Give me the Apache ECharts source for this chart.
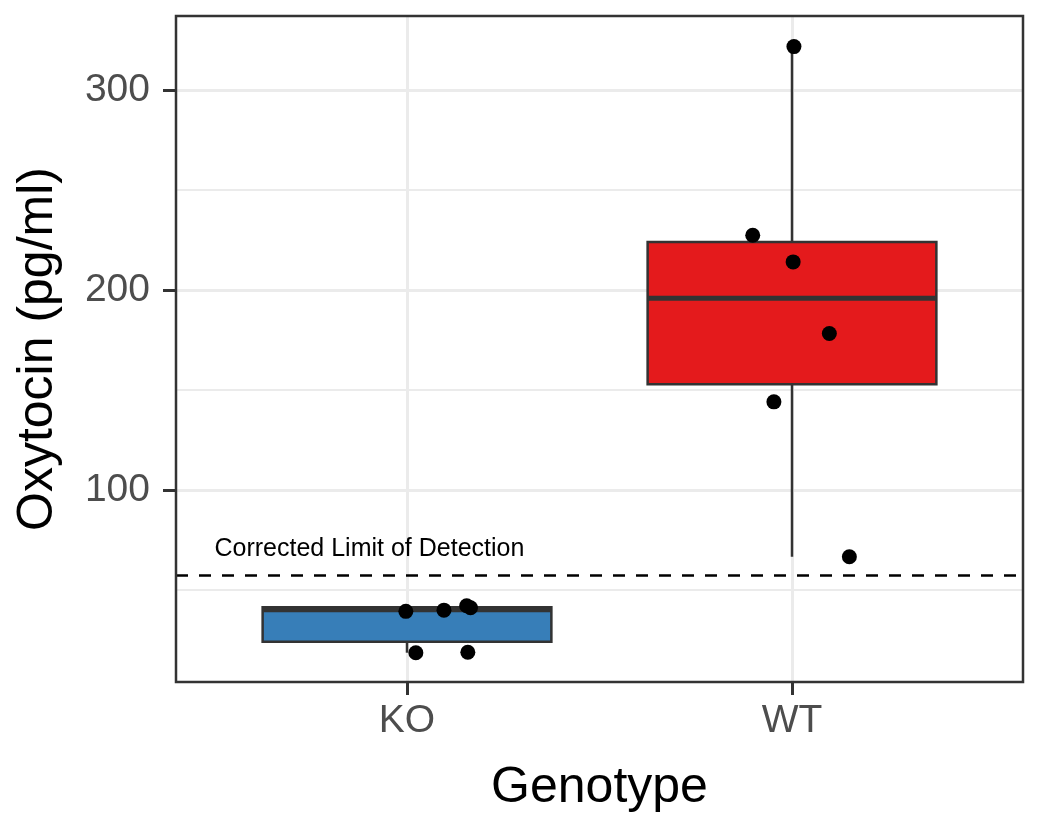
<!DOCTYPE html>
<html>
<head>
<meta charset="utf-8">
<script src="https://cdn.jsdelivr.net/npm/echarts@6/dist/echarts.min.js"></script>
<style>html,body{margin:0;padding:0;background:#fff}#c{width:1050px;height:825px}</style>
</head>
<body>
<div id="c"></div>
<script>
const categories = ['KO', 'WT'];
const categoryPos = [1, 2];
const boxMin = [18.5, 66.5];
const boxQ1 = [24, 152.8];
const boxMedian = [40, 195.8];
const boxQ3 = [41.3, 224];
const boxMax = [41.5, 321.7];
const boxColors = ['#377EB8', '#E41A1C'];
// jittered points: [x position (category units), value]
const pointsKO = [[0.997, 39.2], [1.096, 39.8], [1.155, 42], [1.165, 41], [1.023, 18.5], [1.158, 18.7]];
const pointsWT = [[2.005, 321.7], [1.898, 227.3], [2.003, 214], [2.097, 178.2], [1.953, 144], [2.149, 66.5]];
const yTicks = [100, 200, 300];
const yMinorGrid = [50, 150, 250];
const limitOfDetection = 57;
const lodLabel = 'Corrected Limit of Detection';
const lodLabelPos = [0.5, 70.5];

const FONT = 'Liberation Sans, Arial, sans-serif';
const boxData = categoryPos.map((x, i) => [x, boxMin[i], boxQ1[i], boxMedian[i], boxQ3[i], boxMax[i], i]);
const halfW = 0.375;

const chart = echarts.init(document.getElementById('c'), null, {renderer: 'canvas'});
chart.setOption({
  animation: false,
  backgroundColor: '#fff',
  grid: {left: 176, right: 27, top: 16, bottom: 143, show: true, borderColor: '#333', borderWidth: 2.5, backgroundColor: 'transparent', z: 10},
  xAxis: {
    type: 'value', min: 0.4, max: 2.6,
    name: 'Genotype', nameLocation: 'middle', nameGap: 81,
    nameTextStyle: {fontFamily: FONT, fontSize: 50, color: '#000'},
    axisLine: {show: false},
    splitLine: {show: false},
    axisTick: {show: true, length: 13, lineStyle: {color: '#333', width: 3}, customValues: categoryPos},
    axisLabel: {show: true, customValues: categoryPos, margin: 20, fontFamily: FONT, fontSize: 39, color: '#4D4D4D',
      formatter: v => categories[categoryPos.indexOf(Math.round(v))] || ''}
  },
  yAxis: {
    type: 'value', min: 3.85, max: 337,
    name: 'Oxytocin (pg/ml)', nameLocation: 'middle', nameGap: 113,
    nameTextStyle: {fontFamily: FONT, fontSize: 50, color: '#000'},
    axisLine: {show: false},
    splitLine: {show: false},
    axisTick: {show: true, length: 13, lineStyle: {color: '#333', width: 3}, customValues: yTicks},
    axisLabel: {show: true, customValues: yTicks, margin: 26, fontFamily: FONT, fontSize: 39, color: '#4D4D4D'}
  },
  series: [
    {
      type: 'line', data: [], silent: true, z: 1,
      markLine: {
        silent: true, symbol: 'none', animation: false, z: 1,
        label: {show: false},
        emphasis: {disabled: true},
        data: [
          ...yMinorGrid.map(v => ({yAxis: v, lineStyle: {color: '#EBEBEB', width: 1.8, type: 'solid'}})),
          ...yTicks.map(v => ({yAxis: v, lineStyle: {color: '#EBEBEB', width: 3, type: 'solid'}})),
          ...categoryPos.map(v => ({xAxis: v, lineStyle: {color: '#EBEBEB', width: 3, type: 'solid'}}))
        ]
      }
    },
    {
      type: 'custom', z: 3,
      data: boxData,
      renderItem: (params, api) => {
        const x = api.value(0), lo = api.value(1), q1 = api.value(2), med = api.value(3), q3 = api.value(4), hi = api.value(5);
        const idx = api.value(6);
        const pTL = api.coord([x - halfW, q3]);
        const pBR = api.coord([x + halfW, q1]);
        const pC = api.coord([x, 0]);
        const yLo = api.coord([x, lo])[1], yHi = api.coord([x, hi])[1], yMed = api.coord([x, med])[1];
        const stroke = {stroke: '#333333', lineWidth: 2.5};
        return {
          type: 'group',
          children: [
            {type: 'line', shape: {x1: pC[0], y1: pTL[1], x2: pC[0], y2: yHi}, style: stroke},
            {type: 'line', shape: {x1: pC[0], y1: pBR[1], x2: pC[0], y2: yLo}, style: stroke},
            {type: 'rect', shape: {x: pTL[0], y: pTL[1], width: pBR[0] - pTL[0], height: pBR[1] - pTL[1]},
              style: {fill: boxColors[idx], stroke: '#333333', lineWidth: 2.5}},
            {type: 'line', shape: {x1: pTL[0], y1: yMed, x2: pBR[0], y2: yMed}, style: {stroke: '#333333', lineWidth: 5}}
          ]
        };
      }
    },
    {
      type: 'line', data: [], silent: true, z: 4,
      markLine: {
        silent: true, symbol: 'none', animation: false, z: 4,
        label: {show: false},
        emphasis: {disabled: true},
        lineStyle: {color: '#000', width: 2.5, type: [12, 11]},
        data: [{yAxis: limitOfDetection}]
      }
    },
    {
      type: 'scatter', z: 5, symbol: 'circle', symbolSize: 15,
      itemStyle: {color: '#000', opacity: 1},
      data: pointsKO.concat(pointsWT)
    },
    {
      type: 'scatter', z: 6, symbolSize: 0, silent: true,
      itemStyle: {opacity: 1},
      data: [lodLabelPos],
      label: {show: true, position: 'right', distance: 0, formatter: lodLabel, fontFamily: FONT, fontSize: 25, color: '#000', opacity: 1}
    }
  ]
});
</script>
</body>
</html>
